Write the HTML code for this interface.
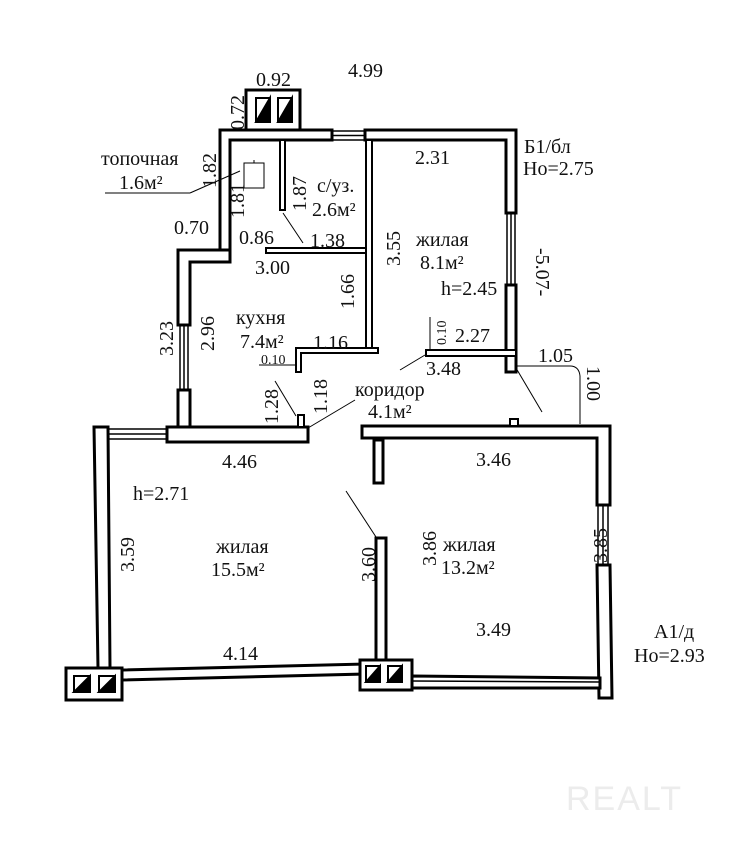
<!DOCTYPE html>
<html><head><meta charset="utf-8"><style>
html,body{margin:0;padding:0;background:#fff;}
svg{display:block}
text{font-family:"Liberation Serif",serif;font-size:20px;fill:#111}
</style></head><body>
<svg width="750" height="848" viewBox="0 0 750 848" xmlns="http://www.w3.org/2000/svg">
<g fill="#fff" stroke="#000" stroke-width="3">
<rect x="246" y="90" width="54" height="40"/>
<polygon points="220,130 332,130 332,140 230,140 230,250 220,250"/>
<polygon points="365,130 516,130 516,213 506,213 506,140 365,140"/>
<polygon points="220,250 230,250 230,262 190,262 190,325 178,325 178,250"/>
<rect x="178" y="390" width="12" height="38"/>
<rect x="506" y="285" width="10" height="87"/>
<rect x="167" y="427" width="141" height="15"/>
<polygon points="362,426 610,426 610,505 597,505 597,438 362,438"/>
<polygon points="597,565 610,565 612,698 599,698"/>
<polygon points="94,427 108,427 110,668 98,668"/>
<polygon points="122,670 365,664 365,674 122,680"/>
<polygon points="412,676 600,678 600,688 412,688"/>
<rect x="66" y="668" width="56" height="32"/>
<rect x="360" y="660" width="52" height="30"/>
<rect x="376" y="538" width="10" height="122"/>
<rect x="374" y="440" width="9" height="43"/>
</g>
<g fill="#fff" stroke="#000" stroke-width="2">
<rect x="280" y="140" width="5" height="70"/>
<rect x="266" y="248" width="102" height="5"/>
<rect x="366" y="140" width="6" height="213"/>
<polygon points="296,348 378,348 378,353 301,353 301,372 296,372"/>
<rect x="426" y="350" width="90" height="6"/>
<rect x="298" y="415" width="6" height="12"/>
<rect x="510" y="419" width="8" height="7"/>
</g>
<g fill="none" stroke="#000" stroke-width="1.5">
<rect x="332" y="131" width="33" height="9"/>
<line x1="332" y1="135.5" x2="365" y2="135.5"/>
<rect x="180" y="325" width="8" height="65"/>
<line x1="184" y1="325" x2="184" y2="390"/>
<rect x="507" y="213" width="8" height="72"/>
<line x1="511" y1="213" x2="511" y2="285"/>
<rect x="108" y="429" width="59" height="10"/>
<line x1="108" y1="434" x2="167" y2="434"/>
<rect x="598" y="505" width="10" height="60"/>
<line x1="603" y1="505" x2="603" y2="565"/>
<line x1="412" y1="681" x2="600" y2="682"/>
</g>
<g stroke="#000" stroke-width="2">
<rect x="256" y="98" width="14" height="24" fill="#fff"/><polygon points="256,122 270,98 270,122" fill="#000"/>
<rect x="278" y="98" width="14" height="24" fill="#fff"/><polygon points="278,122 292,98 292,122" fill="#000"/>
<rect x="74" y="676" width="16" height="16" fill="#fff"/><polygon points="74,692 90,676 90,692" fill="#000"/>
<rect x="99" y="676" width="16" height="16" fill="#fff"/><polygon points="99,692 115,676 115,692" fill="#000"/>
<rect x="366" y="666" width="14" height="16" fill="#fff"/><polygon points="366,682 380,666 380,682" fill="#000"/>
<rect x="388" y="666" width="14" height="16" fill="#fff"/><polygon points="388,682 402,666 402,682" fill="#000"/>
</g>
<g fill="none" stroke="#000" stroke-width="1">
<rect x="244" y="163" width="20" height="25"/>
<line x1="254" y1="160" x2="254" y2="163"/>
<line x1="105" y1="193" x2="190" y2="193"/><line x1="190" y1="193" x2="240" y2="171"/>
<line x1="283" y1="213" x2="303" y2="243"/>
<line x1="275" y1="381" x2="296" y2="416"/>
<line x1="308" y1="428" x2="355" y2="400"/>
<line x1="425" y1="355" x2="400" y2="370"/>
<line x1="516" y1="368" x2="542" y2="412"/>
<path d="M517,366 L570,366 Q579,366 580,376 L580,424"/>
<line x1="346" y1="491" x2="376" y2="537"/>
<line x1="259" y1="365" x2="296" y2="365"/>
<line x1="430" y1="317" x2="430" y2="350"/>
</g>
<text x="348" y="77">4.99</text>
<text x="256" y="86">0.92</text>
<text transform="translate(244,130) rotate(-90)">0.72</text>
<text x="101" y="165">топочная</text>
<text x="119" y="189">1.6м²</text>
<text transform="translate(216,188) rotate(-90)">1.82</text>
<text transform="translate(244,218) rotate(-90)">1.81</text>
<text transform="translate(306,211) rotate(-90)">1.87</text>
<text x="317" y="192">с/уз.</text>
<text x="312" y="216">2.6м²</text>
<text x="174" y="234">0.70</text>
<text x="239" y="244">0.86</text>
<text x="310" y="247">1.38</text>
<text x="255" y="274">3.00</text>
<text x="415" y="164">2.31</text>
<text x="524" y="153">Б1/бл</text>
<text x="523" y="175">Но=2.75</text>
<text transform="translate(400,266) rotate(-90)">3.55</text>
<text x="416" y="246">жилая</text>
<text x="420" y="269">8.1м²</text>
<text transform="translate(536,248) rotate(90)">-5.07-</text>
<text x="441" y="295">h=2.45</text>
<text transform="translate(354,309) rotate(-90)">1.66</text>
<text transform="translate(173,356) rotate(-90)">3.23</text>
<text transform="translate(214,351) rotate(-90)">2.96</text>
<text x="236" y="324">кухня</text>
<text x="240" y="348">7.4м²</text>
<text x="313" y="349">1.16</text>
<text x="261" y="364" style="font-size:14px">0.10</text>
<text transform="translate(446,345) rotate(-90)" style="font-size:14px">0.10</text>
<text x="455" y="342">2.27</text>
<text x="426" y="375">3.48</text>
<text x="538" y="362">1.05</text>
<text transform="translate(587,366) rotate(90)">1.00</text>
<text transform="translate(278,424) rotate(-90)">1.28</text>
<text transform="translate(327,414) rotate(-90)">1.18</text>
<text x="355" y="396">коридор</text>
<text x="368" y="418">4.1м²</text>
<text x="222" y="468">4.46</text>
<text x="476" y="466">3.46</text>
<text x="133" y="500">h=2.71</text>
<text transform="translate(134,572) rotate(-90)">3.59</text>
<text x="216" y="553">жилая</text>
<text x="211" y="576">15.5м²</text>
<text transform="translate(375,582) rotate(-90)">3.60</text>
<text transform="translate(436,566) rotate(-90)">3.86</text>
<text x="443" y="551">жилая</text>
<text x="441" y="574">13.2м²</text>
<text transform="translate(607,563) rotate(-90)">3.85</text>
<text x="476" y="636">3.49</text>
<text x="223" y="660">4.14</text>
<text x="654" y="638">А1/д</text>
<text x="634" y="662">Но=2.93</text>
<text x="566" y="810" style="font-family:'Liberation Sans',sans-serif;font-size:34px;fill:#ececec;letter-spacing:2px">REALT</text>
</svg>
</body></html>
